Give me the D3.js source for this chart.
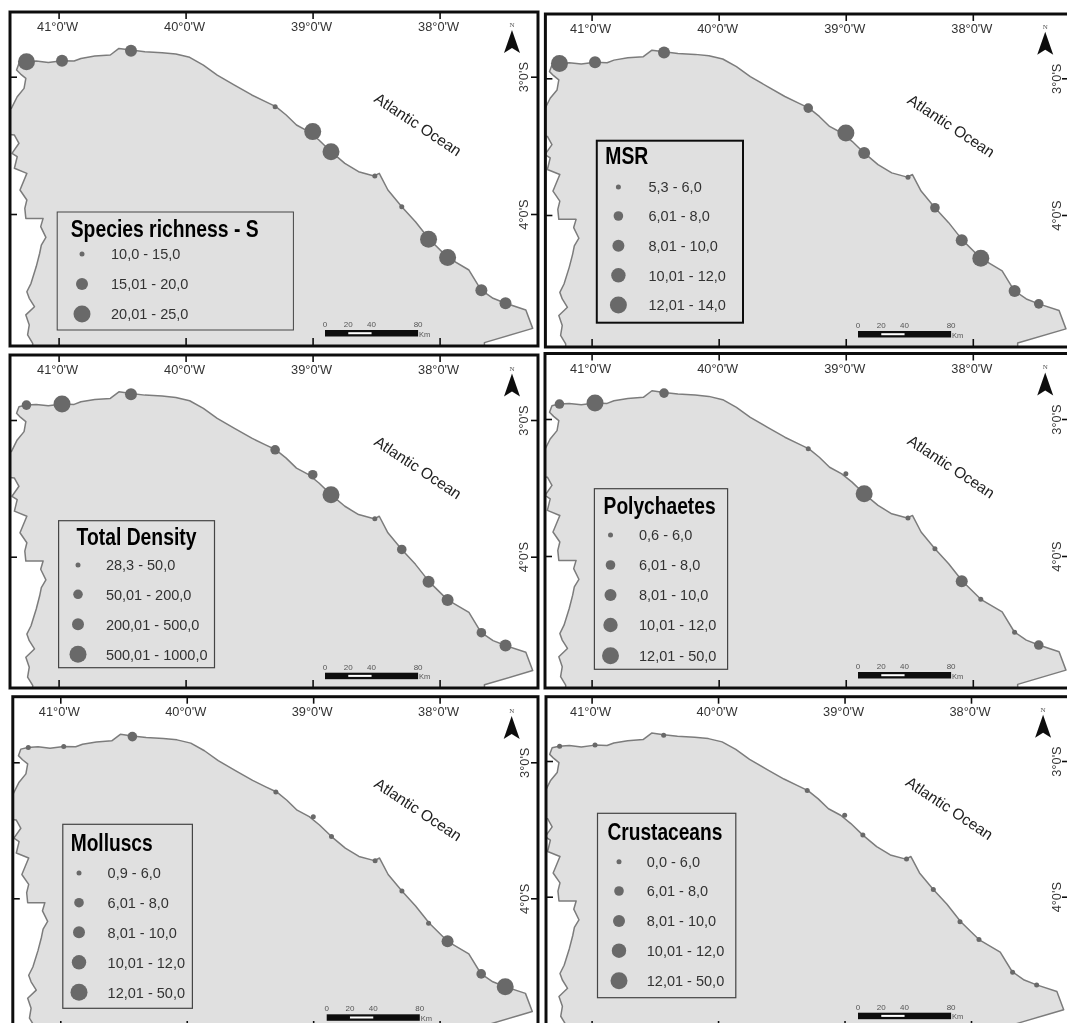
<!DOCTYPE html>
<html>
<head>
<meta charset="utf-8">
<script src="https://cdn.jsdelivr.net/npm/d3@7"></script>
<style>
  html, body { margin: 0; padding: 0; background: #fff; overflow: hidden; }
  text { font-family: "Liberation Sans", Arial, sans-serif; }
</style>
</head>
<body>
<div class="container"></div>
<script>
const coastLon = [41.204, 41.244, 41.231, 41.258, 41.190, 41.231, 41.250, 41.217, 41.176, 41.149, 41.136, 41.100, 41.141, 41.122, 41.258, 41.266, 41.250, 41.304, 41.250, 41.348, 41.326, 41.367, 41.312, 41.348, 41.450, 41.450, 41.372, 41.326, 41.272, 41.258, 41.299, 41.331, 41.312, 41.258, 41.176, 41.081, 40.973, 40.878, 40.824, 40.715, 40.593, 40.525, 40.430, 40.321, 40.185, 40.077, 39.968, 39.860, 39.751, 39.615, 39.479, 39.371, 39.289, 39.208, 39.127, 39.031, 38.950, 38.855, 38.746, 38.638, 38.516, 38.475, 38.407, 38.298, 38.190, 38.081, 37.937, 37.769, 37.674, 37.579, 37.481, 37.321, 37.267, 37.647, 37.647, 41.204];
const coastLat = [4.942, 4.881, 4.808, 4.735, 4.675, 4.614, 4.566, 4.505, 4.383, 4.286, 4.226, 4.170, 4.092, 4.032, 4.032, 3.959, 3.898, 3.825, 3.704, 3.667, 3.583, 3.558, 3.485, 3.425, 3.413, 3.231, 3.231, 3.146, 3.085, 3.012, 2.981, 2.951, 2.903, 2.891, 2.886, 2.896, 2.883, 2.886, 2.867, 2.850, 2.842, 2.794, 2.806, 2.818, 2.825, 2.835, 2.859, 2.915, 2.988, 3.061, 3.133, 3.182, 3.218, 3.279, 3.352, 3.400, 3.461, 3.546, 3.631, 3.692, 3.723, 3.704, 3.825, 3.947, 4.056, 4.184, 4.316, 4.408, 4.553, 4.614, 4.650, 4.699, 4.833, 4.937, 5.100, 5.100];

// the twelve beaches
const siteLon = [41.253, 40.973, 40.430, 39.295, 38.999, 38.855, 38.510, 38.298, 38.087, 37.937, 37.671, 37.481];
const siteLat = [2.891, 2.883, 2.811, 3.218, 3.400, 3.546, 3.723, 3.947, 4.184, 4.316, 4.556, 4.650];

// graticule labels and scale bar
const lonTicks = [41, 40, 39, 38];
const latTicks = [3, 4];
const scaleKm = [0, 20, 40, 80];

// titles of the six legends
const titles = ["Species richness - S", "MSR", "Total Density", "Polychaetes", "Molluscs", "Crustaceans"];

// estimated value per beach, each one falls in the class the picture shows
const speciesValues = [23, 18, 18, 12, 23, 23, 13, 13, 23, 23, 18, 18];
const msrValues = [13, 9, 9, 7, 13, 9, 5.6, 7, 9, 13, 9, 7];
const densityValues = [120, 750, 350, 120, 120, 750, 40, 120, 350, 350, 120, 350];
const polychaeteValues = [7, 25, 7, 3, 3, 25, 3, 3, 9, 3, 3, 7];
const molluscValues = [3, 3, 7, 3, 3, 3, 3, 3, 3, 9, 7, 20];
const crustaceanValues = [3, 3, 3, 4, 4, 4, 3, 4, 4, 4, 3, 3];
const allValues = [speciesValues, msrValues, densityValues, polychaeteValues, molluscValues, crustaceanValues];

// class limits
const speciesLimits = [15, 20];
const msrLimits = [6, 8, 10, 12];
const densityLimits = [50, 200, 500];
const taxaLimits = [6, 8, 10, 12];
const allLimits = [speciesLimits, msrLimits, densityLimits, taxaLimits, taxaLimits, taxaLimits];

// class labels
const speciesLabels = ["10,0 - 15,0", "15,01 - 20,0", "20,01 - 25,0"];
const msrLabels = ["5,3 - 6,0", "6,01 - 8,0", "8,01 - 10,0", "10,01 - 12,0", "12,01 - 14,0"];
const densityLabels = ["28,3 - 50,0", "50,01 - 200,0", "200,01 - 500,0", "500,01 - 1000,0"];
const polychaeteLabels = ["0,6 - 6,0", "6,01 - 8,0", "8,01 - 10,0", "10,01 - 12,0", "12,01 - 50,0"];
const molluscLabels = ["0,9 - 6,0", "6,01 - 8,0", "8,01 - 10,0", "10,01 - 12,0", "12,01 - 50,0"];
const crustaceanLabels = ["0,0 - 6,0", "6,01 - 8,0", "8,01 - 10,0", "10,01 - 12,0", "12,01 - 50,0"];
const allLabels = [speciesLabels, msrLabels, densityLabels, polychaeteLabels, molluscLabels, crustaceanLabels];

const width = 1067;
const height = 1023;

// symbol radius of each class
const radii3 = [2.5, 6, 8.5];
const radii4 = [2.5, 4.8, 6, 8.5];
const radii5 = [2.5, 4.8, 6, 7.2, 8.5];
const allRadii = [radii3, radii5, radii4, radii5, radii5, radii5];

// where each map sits: pixel of 41W and 38W, of 3S and 4S, and the frame
const layout = [
  { x41: 58.6, x38: 439.6, y3: 76.7, y4: 214, left: 10, top: 12, right: 538, bottom: 346 },
  { x41: 591.6, x38: 972.8, y3: 78.3, y4: 215, left: 545.4, top: 14, right: 1069, bottom: 347 },
  { x41: 58.6, x38: 439.6, y3: 420, y4: 556.7, left: 10, top: 355, right: 538, bottom: 688 },
  { x41: 591.6, x38: 972.8, y3: 419, y4: 556, left: 545, top: 353.5, right: 1069, bottom: 688 },
  { x41: 60.3, x38: 439.6, y3: 762.3, y4: 898.3, left: 12.8, top: 696.7, right: 538, bottom: 1029 },
  { x41: 591.6, x38: 971, y3: 761, y4: 896.7, left: 546, top: 696.7, right: 1069, bottom: 1029 }
];

// where each legend sits
const legendLayout = [
  { x0: 57.2, x1: 293.4, y0: 212, y1: 330, titleX: 70.7, titleY: 237, titleW: 188, cx: 82, labelX: 111, rows: [254, 284, 314], line: 1, color: "#444" },
  { x0: 596.8, x1: 743, y0: 140.7, y1: 322.7, titleX: 605.3, titleY: 164, titleW: 43, cx: 618.4, labelX: 648.5, rows: [187, 216, 245.7, 275.3, 305], line: 2, color: "#111" },
  { x0: 58.6, x1: 214.5, y0: 520.7, y1: 667.7, titleX: 76.5, titleY: 545, titleW: 120, cx: 78, labelX: 105.9, rows: [565, 594.3, 624.3, 654.3], line: 1.2, color: "#444" },
  { x0: 594.4, x1: 727.6, y0: 488.7, y1: 669.3, titleX: 603.6, titleY: 514, titleW: 112, cx: 610.5, labelX: 639, rows: [535, 565, 595, 625, 655.7], line: 1.2, color: "#444" },
  { x0: 62.8, x1: 192.4, y0: 824.3, y1: 1008.3, titleX: 70.7, titleY: 851, titleW: 82, cx: 79, labelX: 107.6, rows: [873, 902.7, 932.3, 962.3, 992.3], line: 1.2, color: "#444" },
  { x0: 597.5, x1: 735.8, y0: 813.3, y1: 997.7, titleX: 607.4, titleY: 840, titleW: 115, cx: 619, labelX: 646.8, rows: [861.7, 891, 921, 950.7, 980.7], line: 1.2, color: "#444" }
];

// select the container and append the svg to it
const svg = d3.select(".container")
  .append("svg")
  .attr("width", width)
  .attr("height", height)
  .style("display", "block");

// the reference is a soft scan, a small blur brings the edges close to it
svg.append("defs")
  .append("filter")
  .attr("id", "soft")
  .append("feGaussianBlur")
  .attr("stdDeviation", 0.45);

const root = svg.append("g").attr("filter", "url(#soft)");

allValues.forEach((values, i) => drawMap(root, i, values));

// one map with frame, graticule ticks, coast, beaches, north arrow, bar, legend
function drawMap(parent, i, values) {
  const p = layout[i];
  const g = parent.append("g");

  // degrees to pixels for this map
  const xScale = d3.scaleLinear().domain([41, 38]).range([p.x41, p.x38]);
  const yScale = d3.scaleLinear().domain([3, 4]).range([p.y3, p.y4]);

  // class of a value gives its radius
  const rScale = d3.scaleThreshold().domain(allLimits[i]).range(allRadii[i]);

  svg.select("defs").append("clipPath")
    .attr("id", "frame" + i)
    .append("rect")
    .attr("x", p.left)
    .attr("y", p.top)
    .attr("width", p.right - p.left)
    .attr("height", p.bottom - p.top);

  g.append("rect")
    .attr("x", p.left)
    .attr("y", p.top)
    .attr("width", p.right - p.left)
    .attr("height", p.bottom - p.top)
    .attr("fill", "#fff");

  // land
  const coastLine = d3.line()
    .x(d => xScale(coastLon[d]))
    .y(d => yScale(coastLat[d]));

  g.append("path")
    .attr("clip-path", `url(#frame${i})`)
    .attr("d", coastLine(d3.range(coastLon.length)) + "Z")
    .attr("fill", "#e0e0e0")
    .attr("stroke", "#7c7c7c")
    .attr("stroke-width", 1.5)
    .attr("stroke-linejoin", "round");

  // beaches
  g.append("g")
    .selectAll("circle")
    .data(values)
    .join("circle")
    .attr("cx", (d, j) => xScale(siteLon[j]))
    .attr("cy", (d, j) => yScale(siteLat[j]))
    .attr("r", d => rScale(d))
    .attr("fill", "#696969");

  // frame on top of the land
  g.append("rect")
    .attr("x", p.left)
    .attr("y", p.top)
    .attr("width", p.right - p.left)
    .attr("height", p.bottom - p.top)
    .attr("fill", "none")
    .attr("stroke", "#111")
    .attr("stroke-width", 3);

  drawAxes(g, p, xScale, yScale);
  drawDecor(g, p, xScale, yScale);
  drawLegend(g, i, rScale);
}

// ticks point inward, labels sit inside the frame
function drawAxes(g, p, xScale, yScale) {
  const top = g.append("g")
    .attr("transform", `translate(0, ${p.top})`)
    .call(d3.axisTop(xScale).tickValues(lonTicks).tickSize(-7).tickFormat(d => `${d}°0'W`));
  top.select(".domain").remove();
  top.selectAll("line").attr("stroke", "#111").attr("stroke-width", 1.6);
  top.selectAll("text")
    .attr("x", -1.5)
    .attr("y", 19)
    .attr("dy", 0)
    .attr("fill", "#333")
    .attr("font-size", 12.8);

  const bottom = g.append("g")
    .attr("transform", `translate(0, ${p.bottom})`)
    .call(d3.axisBottom(xScale).tickValues(lonTicks).tickSize(-8).tickFormat(""));
  bottom.select(".domain").remove();
  bottom.selectAll("line").attr("stroke", "#111").attr("stroke-width", 1.6);

  const left = g.append("g")
    .attr("transform", `translate(${p.left}, 0)`)
    .call(d3.axisLeft(yScale).tickValues(latTicks).tickSize(-7).tickFormat(""));
  left.select(".domain").remove();
  left.selectAll("line").attr("stroke", "#111").attr("stroke-width", 1.6);

  const right = g.append("g")
    .attr("transform", `translate(${p.right}, 0)`)
    .call(d3.axisRight(yScale).tickValues(latTicks).tickSize(-7).tickFormat(d => `${d}°0'S`));
  right.select(".domain").remove();
  right.selectAll("line").attr("stroke", "#111").attr("stroke-width", 1.6);
  right.selectAll("text")
    .attr("x", 0)
    .attr("dy", 0)
    .attr("text-anchor", "middle")
    .attr("fill", "#333")
    .attr("font-size", 12.8)
    .attr("transform", `translate(${p.x41 + 469 - p.right}, 0) rotate(-90)`);
}

// ocean name, north arrow and scale bar keep the same place on every map
function drawDecor(g, p, xScale, yScale) {
  g.append("text")
    .attr("transform", `translate(${xScale(38.17)}, ${yScale(3.347)}) rotate(33.5)`)
    .attr("text-anchor", "middle")
    .attr("dy", "0.35em")
    .attr("fill", "#222")
    .attr("font-size", 15.5)
    .text("Atlantic Ocean");

  const nx = xScale(37.43);
  const ny = yScale(2.66);
  g.append("text")
    .attr("x", nx)
    .attr("y", ny - 3)
    .attr("text-anchor", "middle")
    .attr("fill", "#555")
    .attr("font-size", 7)
    .style("font-family", "'Liberation Serif', serif")
    .text("N");
  g.append("path")
    .attr("transform", `translate(${nx}, ${ny})`)
    .attr("d", "M0,0L8,23L0,18L-8,23Z")
    .attr("fill", "#111");

  const kmScale = d3.scaleLinear().domain([0, 80]).range([p.x41 + 266.4, p.x41 + 359.5]);
  const barY = p.y4 + 116;
  g.append("rect")
    .attr("x", kmScale(0))
    .attr("y", barY)
    .attr("width", kmScale(80) - kmScale(0))
    .attr("height", 6.5)
    .attr("fill", "#111");
  g.append("rect")
    .attr("x", kmScale(20))
    .attr("y", barY + 2.2)
    .attr("width", kmScale(40) - kmScale(20))
    .attr("height", 2)
    .attr("fill", "#fff");
  g.append("g")
    .selectAll("text")
    .data(scaleKm)
    .join("text")
    .attr("x", d => kmScale(d))
    .attr("y", barY - 3)
    .attr("text-anchor", "middle")
    .attr("fill", "#555")
    .attr("font-size", 8)
    .text(d => d);
  g.append("text")
    .attr("x", kmScale(80) + 1)
    .attr("y", barY + 6.5)
    .attr("fill", "#555")
    .attr("font-size", 7.5)
    .text("Km");
}

function drawLegend(g, i, rScale) {
  const l = legendLayout[i];
  const lg = g.append("g");

  lg.append("rect")
    .attr("x", l.x0)
    .attr("y", l.y0)
    .attr("width", l.x1 - l.x0)
    .attr("height", l.y1 - l.y0)
    .attr("fill", "#e0e0e0")
    .attr("stroke", l.color)
    .attr("stroke-width", l.line);

  lg.append("text")
    .attr("x", l.titleX)
    .attr("y", l.titleY)
    .attr("font-size", 23)
    .attr("font-weight", "bold")
    .attr("textLength", l.titleW)
    .attr("lengthAdjust", "spacingAndGlyphs")
    .attr("fill", "#000")
    .text(titles[i]);

  lg.append("g")
    .selectAll("circle")
    .data(rScale.range())
    .join("circle")
    .attr("cx", l.cx)
    .attr("cy", (d, j) => l.rows[j])
    .attr("r", d => d)
    .attr("fill", "#696969");

  lg.append("g")
    .selectAll("text")
    .data(allLabels[i])
    .join("text")
    .attr("x", l.labelX)
    .attr("y", (d, j) => l.rows[j])
    .attr("dy", "0.36em")
    .attr("font-size", 14.5)
    .attr("fill", "#333")
    .text(d => d);
}
</script>
</body>
</html>
